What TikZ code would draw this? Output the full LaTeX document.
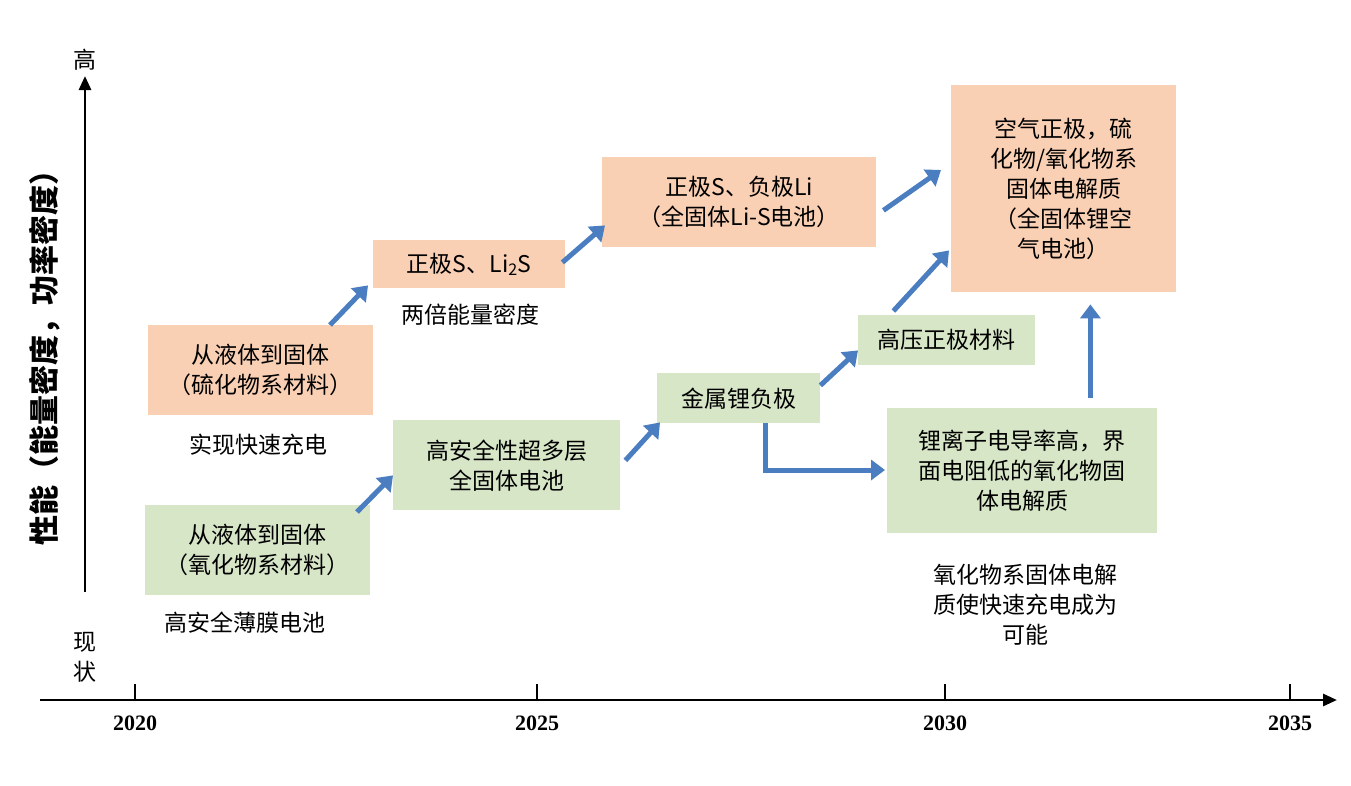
\documentclass[tikz,border=0pt]{standalone}
\usepackage{fontspec}
\setmainfont{Liberation Serif}
\newfontfamily\cjk{Noto Sans CJK SC}
\usetikzlibrary{arrows.meta}
\definecolor{orbox}{HTML}{FAD0B4}
\definecolor{grbox}{HTML}{D8E6C8}
\definecolor{arr}{HTML}{4A7EC0}
\tikzset{
  txt/.style={font=\cjk\fontsize{23}{30}\selectfont, align=center, inner sep=0pt},
  obox/.style={txt, fill=orbox, anchor=north west},
  gbox/.style={txt, fill=grbox, anchor=north west},
  barrow/.style={arr, line width=5pt, -{Triangle[length=14pt,width=20pt]}},
  axis/.style={black, line width=2.8pt, -{Triangle[length=14pt,width=12pt]}},
  yr/.style={font=\bfseries\fontsize{22}{26}\selectfont}
}
\begin{document}
\begin{tikzpicture}[x=1pt,y=-1pt]
\useasboundingbox[fill=white] (0,0) rectangle (1351,785);
% axes
\coordinate (ya) at (85,592); \coordinate (yb) at (85,76);
\draw[axis] (ya) -- (yb);
\coordinate (xa) at (40,700); \coordinate (xb) at (1337,700);
\draw[axis] (xa) -- (xb);
\foreach \x/\y in {135/2020,537/2025,945/2030,1290/2035}{
  \draw[line width=2.8pt] (\x,700) -- (\x,684);
  \node[yr] (y\y) at (\x,723) {\y};
}
\node[txt] (hi) at (85,60) {高};
\node[txt] (lo) at (85,657) {现\\状};
\node[txt, font=\cjk\bfseries\fontsize{30}{34}\selectfont, rotate=90] (ylab) at (45,350) {性能（能量密度，功率密度）};
% orange boxes
\node[obox, minimum width=225pt, minimum height=90pt] (o1) at (148,325) {从液体到固体\\（硫化物系材料）};
\node[obox, minimum width=192pt, minimum height=48pt] (o2) at (373,240) {正极S、Li\textsubscript{2}S};
\node[obox, minimum width=274pt, minimum height=90pt] (o3) at (602,157) {正极S、负极Li\\（全固体Li-S电池）};
\node[obox, minimum width=225pt, minimum height=207pt] (o4) at (951,85) {空气正极，硫\\化物/氧化物系\\固体电解质\\（全固体锂空\\气电池）};
% green boxes
\node[gbox, minimum width=225pt, minimum height=90pt] (g1) at (145,505) {从液体到固体\\（氧化物系材料）};
\node[gbox, minimum width=227pt, minimum height=90pt] (g2) at (393,420) {高安全性超多层\\全固体电池};
\node[gbox, minimum width=163pt, minimum height=50pt] (g3) at (657,373) {金属锂负极};
\node[gbox, minimum width=177pt, minimum height=50pt] (g4) at (858,315) {高压正极材料};
\node[gbox, minimum width=270pt, minimum height=125pt] (g5) at (887,408) {锂离子电导率高，界\\面电阻低的氧化物固\\体电解质};
% plain labels
\node[txt] (t1) at (258,445) {实现快速充电};
\node[txt] (t2) at (470,315) {两倍能量密度};
\node[txt] (t3) at (245,623) {高安全薄膜电池};
\node[txt] (t4) at (1025,605) {氧化物系固体电解\\质使快速充电成为\\可能};
% arrows
\draw[barrow] ([shift={(212,7)}]g1.north west) -- ([shift={(0,-35)}]g2.south west);
\draw[barrow] ([shift={(182,0)}]o1.north west) -- ([shift={(-5,-3)}]o2.south west);
\draw[barrow] ([shift={(-3,-26)}]o2.south east) -- ([shift={(3,-22)}]o3.south west);
\draw[barrow] ([shift={(5,-50)}]g2.south east) -- ([shift={(3,-1)}]g3.south west);
\draw[barrow] ([shift={(0,-38)}]g3.south east) -- ([shift={(0,-15)}]g4.south west);
\draw[barrow] ([shift={(7,-37)}]o3.south east) -- ([shift={(-10,85)}]o4.north west);
\draw[barrow] ([shift={(-142,-4)}]g4.north east) -- ([shift={(-2,-42)}]o4.south west);
\draw[barrow] ([shift={(-67,-10)}]g5.north east) -- ([shift={(-86,12)}]o4.south east);
\draw[barrow] ([shift={(-55,0)}]g3.south east) |- ([shift={(-2,62)}]g5.north west);
\end{tikzpicture}
\end{document}
